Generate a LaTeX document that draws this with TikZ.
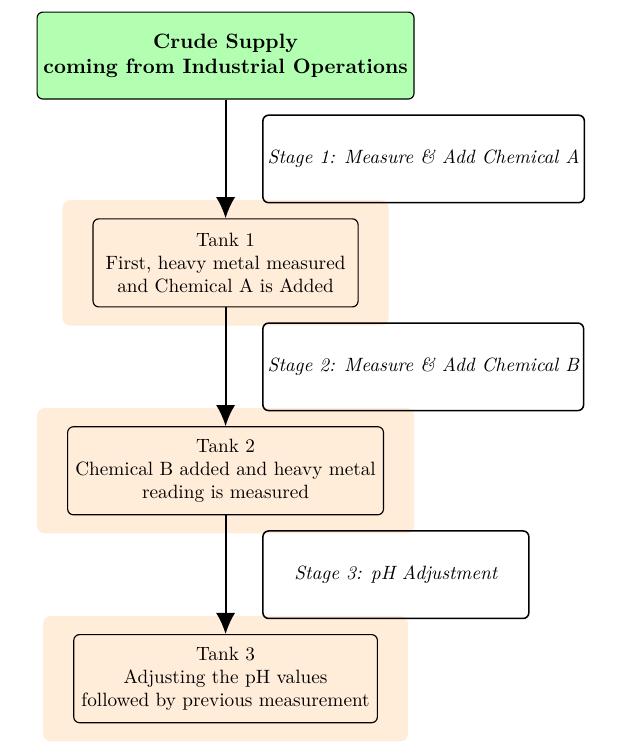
\documentclass[tikz,border=0pt]{standalone}
\usepackage{tikz}
\usetikzlibrary{arrows.meta,calc,positioning,fit,backgrounds}

\begin{document}
\begin{tikzpicture}[
    auto,
    node distance=61.7pt,
    supply/.style={rectangle, rounded corners=3pt, draw=black, fill=green!30, semithick, align=center,
        font=\bfseries\fontsize{10.8}{13}\selectfont, minimum width=196pt, minimum height=45.2pt, inner xsep=3pt},
    tank/.style={rectangle, rounded corners=3pt, draw=black, fill=orange!15, semithick, align=center,
        minimum width=137.8pt, minimum height=45.8pt, inner xsep=4pt},
    stagebox/.style={rectangle, rounded corners=3pt, draw=black, thick, align=center, font=\itshape,
        minimum width=138.3pt, minimum height=45.5pt, anchor=west, inner xsep=2.5pt},
    tankbg/.style={rectangle, rounded corners=4pt, fill=orange!15, inner xsep=15.6pt, inner ysep=9.4pt},
    flow/.style={-{Latex[length=11pt,width=10pt]}, line width=1pt}]
\useasboundingbox (-117.3pt,28.9pt) rectangle ++(320.8pt,-392.6pt);

\node[supply] (crude) {Crude Supply\\coming from Industrial Operations};
\node[tank, below=of crude] (tank1) {Tank 1\\First, heavy metal measured\\and Chemical A is Added};
\node[tank, below=of tank1] (tank2) {Tank 2\\Chemical B added and heavy metal\\reading is measured};
\node[tank, below=of tank2] (tank3) {Tank 3\\Adjusting the pH values\\followed by previous measurement};

% stages sit right of the arrows
\node[stagebox] (stage1) at ($(crude.south)!0.5!(tank1.north)+(19pt,0)$) {Stage 1: Measure \& Add Chemical A};
\node[stagebox] (stage2) at ($(tank1.south)!0.5!(tank2.north)+(19pt,0)$) {Stage 2: Measure \& Add Chemical B};
\node[stagebox] (stage3) at ($(tank2.south)!0.5!(tank3.north)+(19pt,0)$) {Stage 3: pH Adjustment};

\draw[flow] (crude) -- (tank1);
\draw[flow] (tank1) -- (tank2);
\draw[flow] (tank2) -- (tank3);

\begin{scope}[on background layer]
  \foreach \t in {tank1,tank2,tank3}
    \node[tankbg, fit=(\t)] (\t-bg) {};
\end{scope}

\end{tikzpicture}
\end{document}
